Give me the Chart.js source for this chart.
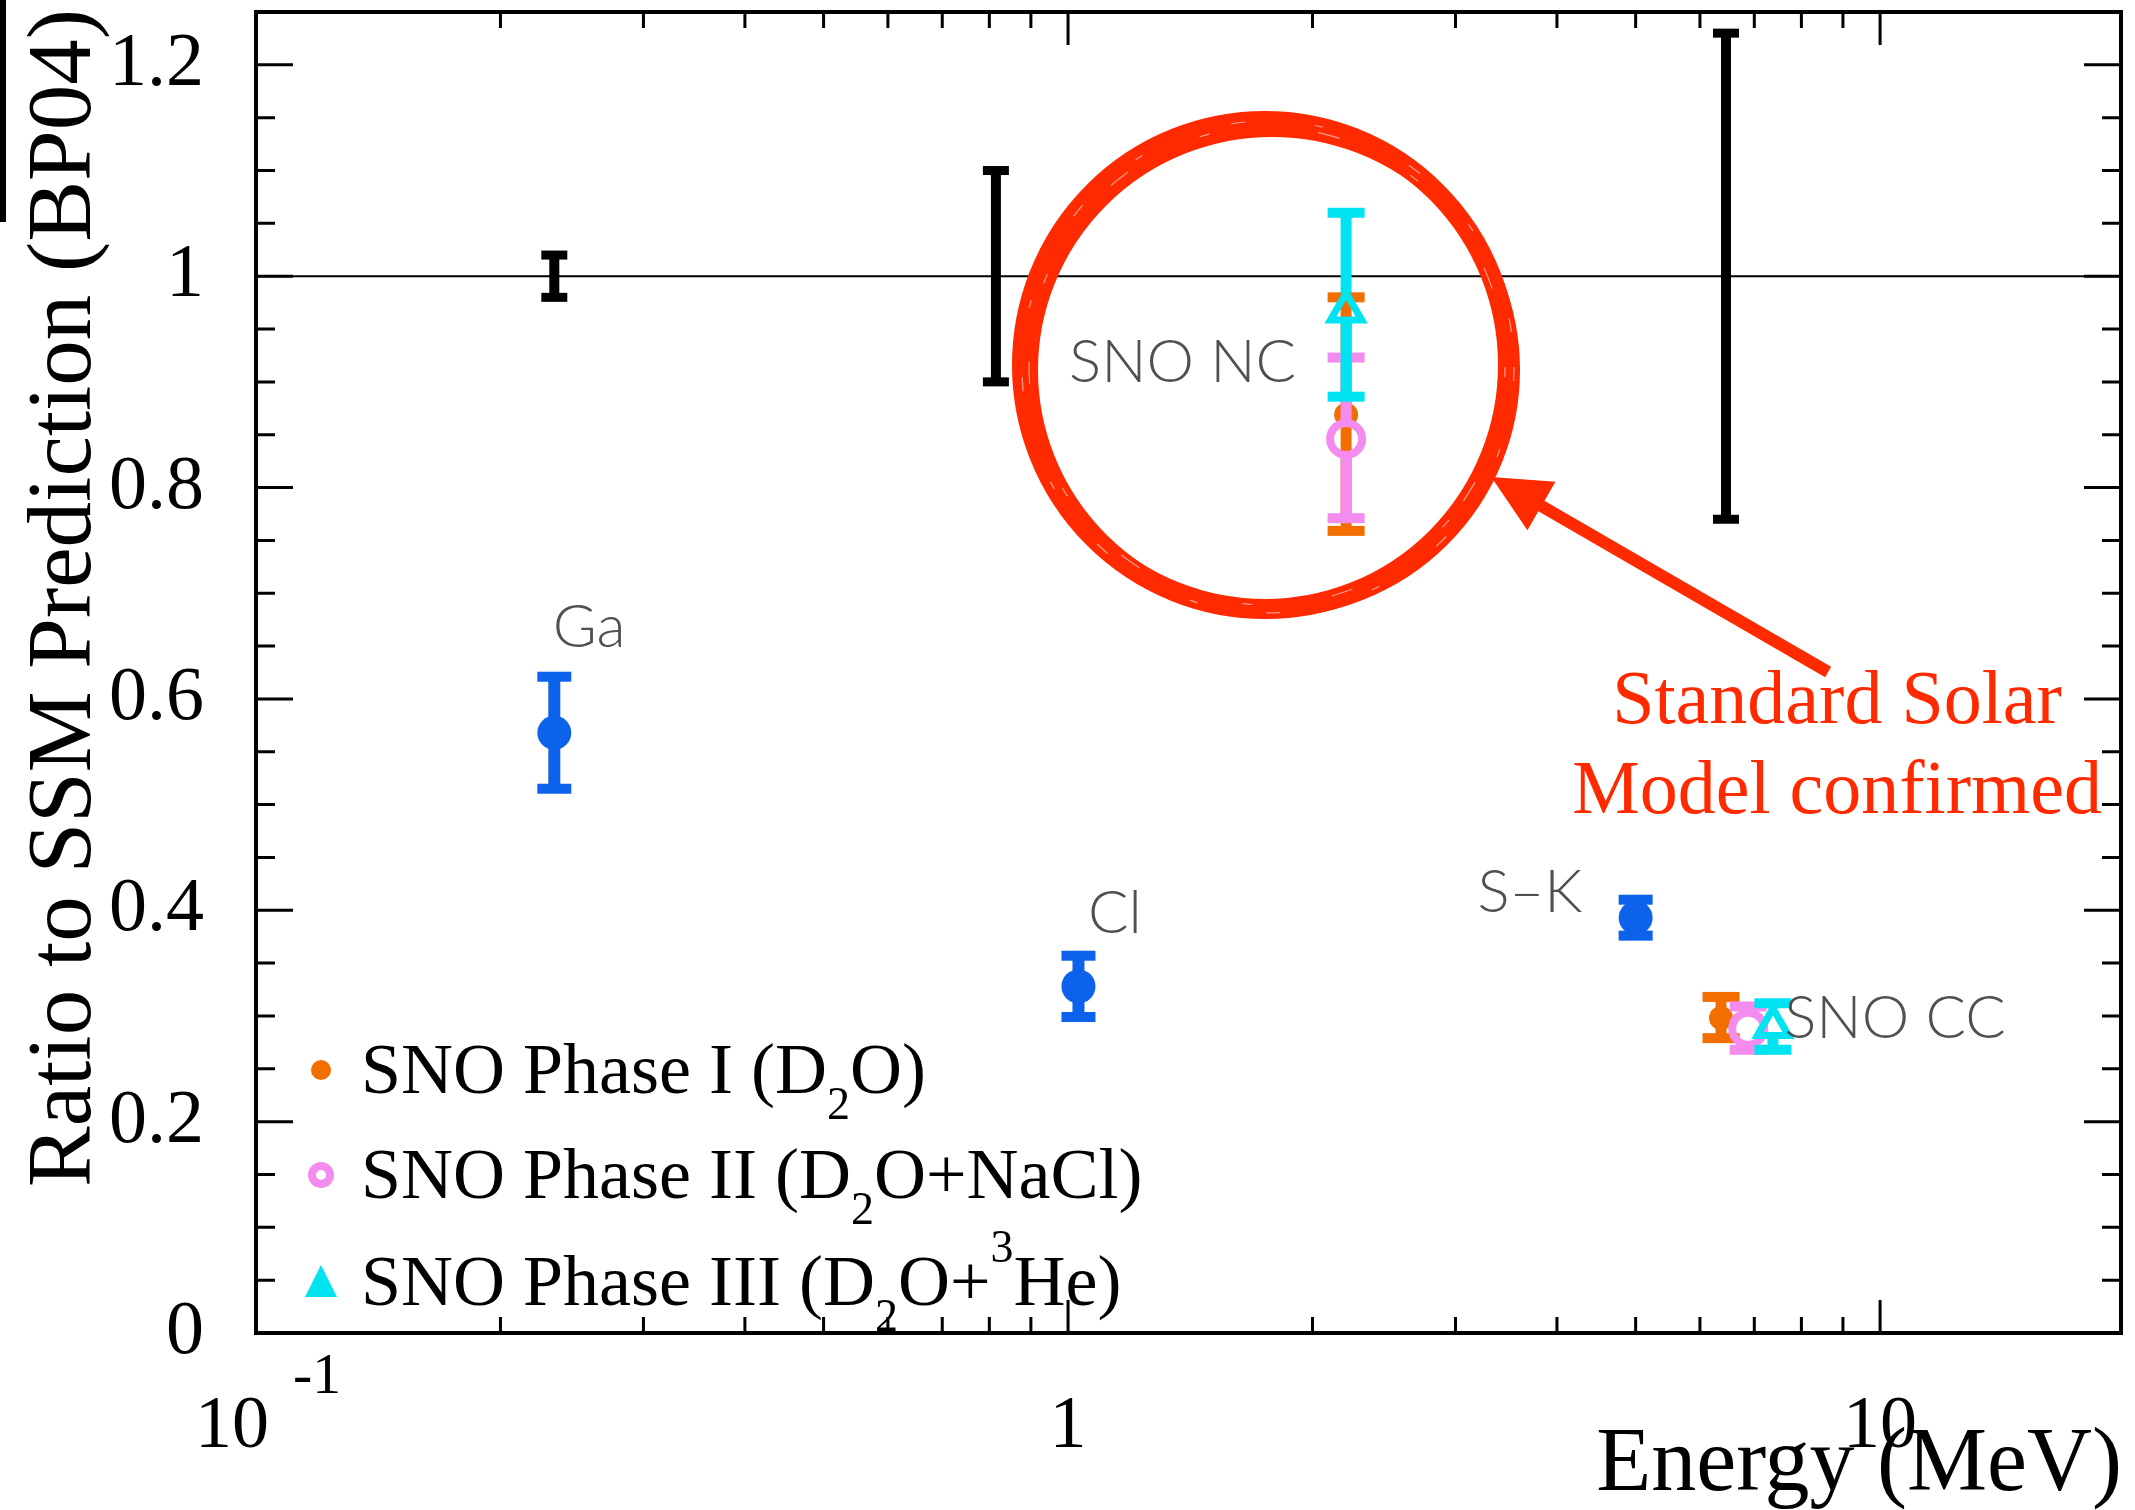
<!DOCTYPE html>
<html lang="en">
<head>
<meta charset="UTF-8">
<title>Ratio to SSM Prediction</title>
<script src="https://cdn.jsdelivr.net/npm/chart.js"></script>
<style>
  html, body { margin: 0; padding: 0; background: #fff; }
  canvas { display: block; }
</style>
</head>
<body>
<canvas id="ssmChart" width="2135" height="1510"></canvas>
<script>
// SSM (BP04) prediction, ratio 1 with its uncertainty
const ssmEnergy = [0.233, 0.815, 6.46];
const ssmLow = [0.98, 0.90, 0.77];
const ssmHigh = [1.02, 1.10, 1.23];
const ssmLevel = 1;

// Ga, Cl, S-K
const expEnergy = [0.233, 1.03, 5.0];
const expRatio = [0.568, 0.328, 0.393];
const expErr = [0.053, 0.029, 0.017];

// SNO, [NC, CC] for each phase
const snoEnergyI = [2.2, 6.37];
const snoRatioI = [0.869, 0.298];
const snoErrUpI = [0.111, 0.020];
const snoErrDownI = [0.110, 0.019];

const snoEnergyII = [2.2, 6.88];
const snoRatioII = [0.846, 0.288];
const snoErrUpII = [0.077, 0.021];
const snoErrDownII = [0.075, 0.020];

const snoEnergyIII = [2.2, 7.38];
const snoRatioIII = [0.967, 0.290];
const snoErrUpIII = [0.093, 0.022];
const snoErrDownIII = [0.081, 0.022];

const noteText = ['Ga', 'Cl', 'S\u2013K', 'SNO NC', 'SNO CC'];
const legendText = ['SNO Phase I (D_{2}O)', 'SNO Phase II (D_{2}O+NaCl)', 'SNO Phase III (D_{2}O+^{3}He)'];
const calloutText = ['Standard Solar', 'Model confirmed'];

const xTickValues = [0.1, 1, 10];
const xTickText = ['10^{-1}', '1', '10'];
const xTitle = 'Energy (MeV)';
const yTitle = 'Ratio to SSM Prediction (BP04)';

const blue = '#0d62ec', orange = '#f26e00', pink = '#f48cf0', cyan = '#00e3f0', red = '#ff2a00';
const serif = '"Liberation Serif", "Times New Roman", serif';

function pts(xs, ys) { return xs.map((x, i) => ({x: x, y: ys[i]})); }

function parseRich(s) {
  const parts = [];
  const re = /([_^])\{([^}]*)\}/g;
  let last = 0, m;
  while ((m = re.exec(s))) {
    if (m.index > last) parts.push({t: s.slice(last, m.index), k: ''});
    parts.push({t: m[2], k: m[1]});
    last = re.lastIndex;
  }
  if (last < s.length) parts.push({t: s.slice(last), k: ''});
  return parts;
}

// text with sub/superscripts, o = {size, subScale, subShift, supScale, supShift, supGap, align}
function drawRich(ctx, s, x, y, o) {
  const parts = parseRich(s);
  const font = p => (p.k === '_' ? o.size * o.subScale : p.k === '^' ? o.size * o.supScale : o.size) + 'px ' + serif;
  let w = 0;
  parts.forEach(p => {
    ctx.font = font(p);
    if (p.k === '^') w += o.supGap || 0;
    w += ctx.measureText(p.t).width;
  });
  let cx = o.align === 'center' ? x - w / 2 : o.align === 'right' ? x - w : x;
  ctx.textAlign = 'left';
  ctx.textBaseline = 'alphabetic';
  parts.forEach(p => {
    ctx.font = font(p);
    let dy = 0;
    if (p.k === '_') dy = o.size * o.subShift;
    if (p.k === '^') { dy = -o.size * o.supShift; cx += o.supGap || 0; }
    ctx.fillText(p.t, cx, y + dy);
    cx += ctx.measureText(p.t).width;
  });
}

const decorPlugin = {
  id: 'decor',
  beforeDatasetsDraw(chart) {
    const {ctx, chartArea: a, scales: {y}} = chart;
    const py = y.getPixelForValue(ssmLevel);
    ctx.save();
    ctx.strokeStyle = '#000';
    ctx.lineWidth = 2;
    ctx.beginPath();
    ctx.moveTo(a.left, py);
    ctx.lineTo(a.right, py);
    ctx.stroke();
    ctx.restore();
  },
  beforeDatasetDraw(chart, args) {
    const ds = chart.data.datasets[args.index];
    if (!ds.errLow) return;
    const {ctx, scales: {x, y}} = chart;
    ctx.save();
    ctx.fillStyle = ds.barColor;
    ds.data.forEach((p, i) => {
      const px = x.getPixelForValue(p.x);
      const py = y.getPixelForValue(p.y);
      const hi = y.getPixelForValue(ds.errHigh[i]);
      const lo = y.getPixelForValue(ds.errLow[i]);
      const lw = ds.barWidth, cw = ds.capWidth, ct = ds.capThick;
      if (py - ds.gapUp > hi) ctx.fillRect(px - lw / 2, hi, lw, py - ds.gapUp - hi);
      if (lo > py + ds.gapDown) ctx.fillRect(px - lw / 2, py + ds.gapDown, lw, lo - py - ds.gapDown);
      ctx.fillRect(px - cw / 2, hi - ct / 2, cw, ct);
      ctx.fillRect(px - cw / 2, lo - ct / 2, cw, ct);
    });
    ctx.restore();
  },
  afterDatasetsDraw(chart) {
    const {ctx, chartArea: a, scales: {x, y}} = chart;
    ctx.save();
    ctx.strokeStyle = '#000';
    ctx.lineWidth = 3;
    ctx.beginPath();
    for (let k = 1; k * 0.05 < y.max; k++) {
      const py = y.getPixelForValue(k * 0.05);
      const len = k % 4 === 0 ? 37 : 19;
      ctx.moveTo(a.left, py); ctx.lineTo(a.left + len, py);
      ctx.moveTo(a.right, py); ctx.lineTo(a.right - len, py);
    }
    for (let e = -1; e <= 1; e++) {
      for (let m = 1; m <= 9; m++) {
        const v = m * Math.pow(10, e);
        if (v <= x.min * 1.0001 || v >= x.max) continue;
        const px = x.getPixelForValue(v);
        const len = m === 1 ? 33 : 16;
        ctx.moveTo(px, a.bottom); ctx.lineTo(px, a.bottom - len);
        ctx.moveTo(px, a.top); ctx.lineTo(px, a.top + len);
      }
    }
    ctx.stroke();
    ctx.lineWidth = 4;
    ctx.strokeRect(a.left, a.top, a.right - a.left, a.bottom - a.top);
    ctx.restore();
  },
  afterDraw(chart) {
    const {ctx, chartArea: a, scales: {x, y}} = chart;
    ctx.save();

    // leftover bar at the top-left edge of the slide
    ctx.fillStyle = '#000';
    ctx.fillRect(0, 0, 6, 222);

    // x tick labels
    xTickValues.forEach((v, i) => {
      const px = x.getPixelForValue(v);
      const off = xTickText[i].indexOf('^') >= 0 ? 12 : 0;
      drawRich(ctx, xTickText[i], px + off, 1447, {size: 74, supScale: 0.78, supShift: 0.73, supGap: 24, align: 'center'});
    });

    // axis titles
    ctx.fillStyle = '#000';
    ctx.font = '90px ' + serif;
    ctx.textAlign = 'right';
    ctx.textBaseline = 'alphabetic';
    ctx.fillText(xTitle, a.right + 1, 1490);
    ctx.save();
    ctx.translate(90, 1187);
    ctx.rotate(-Math.PI / 2);
    ctx.textAlign = 'left';
    ctx.font = '91px ' + serif;
    ctx.fillText(yTitle, 0, 0);
    ctx.restore();

    // point labels
    const notePos = [[0.232, 0.649, 'left'], [1.058, 0.3785, 'left'], [4.30, 0.398, 'right'], [1.909, 0.900, 'right'], [7.62, 0.279, 'left']];
    ctx.fillStyle = '#505050';
    ctx.font = '300 60px Lato, "DejaVu Sans", sans-serif';
    noteText.forEach((t, i) => {
      ctx.textAlign = notePos[i][2];
      ctx.fillText(t, x.getPixelForValue(notePos[i][0]), y.getPixelForValue(notePos[i][1]));
    });

    // legend
    const lx = a.left + 65;
    const rows = [a.bottom - 240, a.bottom - 135, a.bottom - 28];
    rows.forEach((base, i) => {
      const my = base - 23;
      if (i === 0) {
        ctx.fillStyle = orange;
        ctx.beginPath(); ctx.arc(lx, my, 10, 0, Math.PI * 2); ctx.fill();
      } else if (i === 1) {
        ctx.strokeStyle = pink; ctx.lineWidth = 8;
        ctx.beginPath(); ctx.arc(lx, my, 9, 0, Math.PI * 2); ctx.stroke();
      } else {
        ctx.fillStyle = cyan;
        ctx.beginPath();
        ctx.moveTo(lx, my - 17); ctx.lineTo(lx + 16, my + 15); ctx.lineTo(lx - 16, my + 15);
        ctx.closePath(); ctx.fill();
      }
      ctx.fillStyle = '#000';
      drawRich(ctx, legendText[i], lx + 40, base, {size: 72, subScale: 0.64, subShift: 0.36, supScale: 0.64, supShift: 0.6, align: 'left'});
    });

    // red callout: brushed ring, arrow and text
    const cx = x.getPixelForValue(1.748), cy = y.getPixelForValue(0.916);
    ctx.strokeStyle = red;
    ctx.lineWidth = 20;
    ctx.beginPath(); ctx.ellipse(cx, cy, 243, 244, 0, 0, Math.PI * 2); ctx.stroke();
    ctx.lineWidth = 14;
    ctx.beginPath(); ctx.ellipse(cx + 7, cy + 5, 241, 240, 0, 0, Math.PI * 2); ctx.stroke();
    ctx.strokeStyle = 'rgba(255,255,255,0.55)';
    ctx.lineWidth = 1.2;
    ctx.setLineDash([14, 70, 8, 95]);
    ctx.beginPath(); ctx.ellipse(cx + 3, cy + 2, 246, 246, 0, 0, Math.PI * 2); ctx.stroke();
    ctx.setLineDash([10, 110, 22, 80]);
    ctx.beginPath(); ctx.ellipse(cx + 2, cy + 1, 238, 239, 0, 0.7, Math.PI * 2 + 0.7); ctx.stroke();
    ctx.setLineDash([]);

    const tx = x.getPixelForValue(3.32), ty = y.getPixelForValue(0.810);
    const sx = x.getPixelForValue(8.63), sy = y.getPixelForValue(0.6255);
    const dx = tx - sx, dy = ty - sy, L = Math.hypot(dx, dy);
    const ux = dx / L, uy = dy / L, head = 58, half = 28;
    ctx.strokeStyle = red;
    ctx.lineWidth = 12;
    ctx.beginPath(); ctx.moveTo(sx, sy); ctx.lineTo(tx - ux * head * 0.8, ty - uy * head * 0.8); ctx.stroke();
    ctx.fillStyle = red;
    ctx.beginPath();
    ctx.moveTo(tx, ty);
    ctx.lineTo(tx - ux * head - uy * half, ty - uy * head + ux * half);
    ctx.lineTo(tx - ux * head + uy * half, ty - uy * head - ux * half);
    ctx.closePath(); ctx.fill();

    ctx.font = '76px ' + serif;
    ctx.textAlign = 'center';
    ctx.fillText(calloutText[0], x.getPixelForValue(8.85), y.getPixelForValue(0.577));
    ctx.fillText(calloutText[1], x.getPixelForValue(8.85), y.getPixelForValue(0.492));

    ctx.restore();
  }
};

new Chart(document.getElementById('ssmChart'), {
  type: 'scatter',
  data: {
    datasets: [
      {
        label: 'SSM (BP04)', data: pts(ssmEnergy, ssmEnergy.map(() => ssmLevel)),
        errLow: ssmLow, errHigh: ssmHigh,
        barColor: '#000', barWidth: 10, capWidth: 26, capThick: 9, gapUp: 0, gapDown: 0,
        pointRadius: 0, order: 5
      },
      {
        label: 'Ga / Cl / S-K', data: pts(expEnergy, expRatio),
        errLow: expRatio.map((v, i) => v - expErr[i]), errHigh: expRatio.map((v, i) => v + expErr[i]),
        barColor: blue, barWidth: 12, capWidth: 34, capThick: 10, gapUp: 0, gapDown: 0,
        pointStyle: 'circle', pointRadius: 17, backgroundColor: blue, borderWidth: 0, order: 4
      },
      {
        label: legendText[0], data: pts(snoEnergyI, snoRatioI),
        errLow: snoRatioI.map((v, i) => v - snoErrDownI[i]), errHigh: snoRatioI.map((v, i) => v + snoErrUpI[i]),
        barColor: orange, barWidth: 11, capWidth: 37, capThick: 10, gapUp: 0, gapDown: 0,
        pointStyle: 'circle', pointRadius: 12, backgroundColor: orange, borderWidth: 0, order: 3
      },
      {
        label: legendText[1], data: pts(snoEnergyII, snoRatioII),
        errLow: snoRatioII.map((v, i) => v - snoErrDownII[i]), errHigh: snoRatioII.map((v, i) => v + snoErrUpII[i]),
        barColor: pink, barWidth: 11, capWidth: 37, capThick: 10, gapUp: 16, gapDown: 16,
        pointStyle: 'circle', pointRadius: 16, backgroundColor: 'rgba(0,0,0,0)', borderColor: pink, borderWidth: 8, order: 2
      },
      {
        label: legendText[2], data: pts(snoEnergyIII, snoRatioIII),
        errLow: snoRatioIII.map((v, i) => v - snoErrDownIII[i]), errHigh: snoRatioIII.map((v, i) => v + snoErrUpIII[i]),
        barColor: cyan, barWidth: 11, capWidth: 37, capThick: 10, gapUp: 18, gapDown: 9,
        pointStyle: 'triangle', pointRadius: 18, backgroundColor: 'rgba(0,0,0,0)', borderColor: cyan, borderWidth: 7, order: 1
      }
    ]
  },
  options: {
    responsive: false,
    animation: false,
    devicePixelRatio: 1,
    events: [],
    layout: { autoPadding: false, padding: { top: 12, right: 14, left: 0, bottom: 0 } },
    plugins: { legend: { display: false }, tooltip: { enabled: false } },
    scales: {
      x: {
        type: 'logarithmic', min: 0.1, max: 19.8,
        grid: { display: false, drawTicks: false }, border: { display: false },
        ticks: { display: false },
        afterFit(s) { s.height = 177; s.paddingLeft = 0; s.paddingRight = 0; }
      },
      y: {
        type: 'linear', min: 0, max: 1.25,
        grid: { display: false, drawTicks: false }, border: { display: false },
        ticks: {
          stepSize: 0.2, includeBounds: false, padding: 52, color: '#000',
          font: { family: 'Liberation Serif', size: 76 },
          callback: v => String(+v.toFixed(2))
        },
        afterFit(s) { s.width = 256; s.paddingTop = 0; s.paddingBottom = 0; }
      }
    }
  },
  plugins: [decorPlugin]
});
</script>
</body>
</html>
